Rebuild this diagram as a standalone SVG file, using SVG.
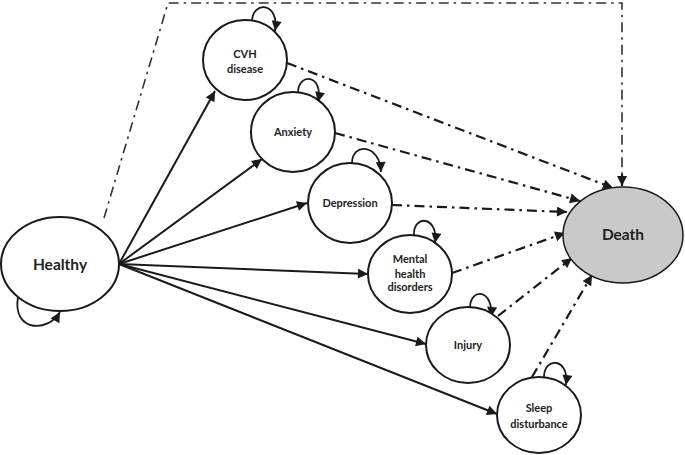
<svg xmlns="http://www.w3.org/2000/svg" width="685" height="455" viewBox="0 0 685 455">
<defs>
<style>
.node{fill:#fff;stroke:#1a1a1a;stroke-width:2}
.death{fill:#c9c9c9;stroke:#1a1a1a;stroke-width:1.5}
.t{font-family:Lato,"Open Sans","Liberation Sans",sans-serif;font-weight:bold;font-size:11px;fill:#222;text-anchor:middle}
.big{font-size:15.5px}
.solid{fill:none;stroke:#1a1a1a;stroke-width:2;marker-end:url(#ah)}
.dd{fill:none;stroke:#1a1a1a;stroke-width:2.2;stroke-dasharray:10 5 2.5 5;marker-end:url(#ah)}
.top{fill:none;stroke:#333;stroke-width:1.6;stroke-dasharray:10 5 2.5 5}
.loop{fill:none;stroke:#1a1a1a;stroke-width:1.8;marker-end:url(#ah)}
</style>
<marker id="ah" viewBox="0 0 10 10" refX="10" refY="5" markerWidth="12" markerHeight="10" markerUnits="userSpaceOnUse" orient="auto">
<path d="M0,0 L10,5 L0,10 z" fill="#1a1a1a"/>
</marker>
</defs>
<g id="connectors">
<path class="top" d="M104,218 L168,3 L622,3 L622,176" />
<path d="M622,174 L622,186" class="dd" style="stroke-dasharray:none"/>
<path class="solid" d="M119,264 L215,91"/>
<path class="solid" d="M119,264 L262,159"/>
<path class="solid" d="M119,264 L307,203"/>
<path class="solid" d="M119,264 L368,274"/>
<path class="solid" d="M119,264 L426,344"/>
<path class="solid" d="M119,264 L497,414"/>
<path class="dd" d="M287,63 L613,188"/>
<path class="dd" d="M335,133 L580,201"/>
<path class="dd" d="M392,205 L567,212"/>
<path class="dd" d="M452,273 L565,233"/>
<path class="dd" d="M498,316 L572,258"/>
<path class="dd" d="M532,377 L592,275"/>
<path class="loop" d="M18,297 C12,332 48,333 60,312"/>
<path class="loop" d="M252,22 C252,0 280,2 275,31"/>
<path class="loop" d="M298,93 C298,72 324,74 318,102"/>
<path class="loop" d="M352,163 C352,142 380,144 381,172"/>
<path class="loop" d="M414,235 C413,214 439,216 435,243"/>
<path class="loop" d="M470,308 C470,287 494,289 491,317"/>
<path class="loop" d="M544,377 C544,356 570,358 566,385"/>
</g>
<g id="healthy"><ellipse class="node" cx="60" cy="264" rx="59" ry="47"/><text class="t big" x="60" y="270">Healthy</text></g>
<g id="cvh"><ellipse class="node" cx="245" cy="60" rx="42" ry="40"/><text class="t" x="245" y="58">CVH</text><text class="t" x="245" y="73">disease</text></g>
<g id="anxiety"><ellipse class="node" cx="293" cy="132" rx="42" ry="40"/><text class="t" x="293" y="136">Anxiety</text></g>
<g id="depression"><ellipse class="node" cx="350" cy="203" rx="42" ry="40"/><text class="t" x="350" y="207">Depression</text></g>
<g id="mental"><ellipse class="node" cx="410" cy="274" rx="42" ry="39"/><text class="t" x="410" y="263">Mental</text><text class="t" x="410" y="278">health</text><text class="t" x="410" y="291">disorders</text></g>
<g id="injury"><ellipse class="node" cx="468" cy="345" rx="42" ry="38"/><text class="t" x="468" y="349">Injury</text></g>
<g id="sleep"><ellipse class="node" cx="539" cy="415" rx="42" ry="38"/><text class="t" x="539" y="412">Sleep</text><text class="t" x="539" y="428">disturbance</text></g>
<g id="death"><ellipse class="death" cx="623" cy="235" rx="60" ry="48"/><text class="t big" x="623" y="240">Death</text></g>
</svg>
